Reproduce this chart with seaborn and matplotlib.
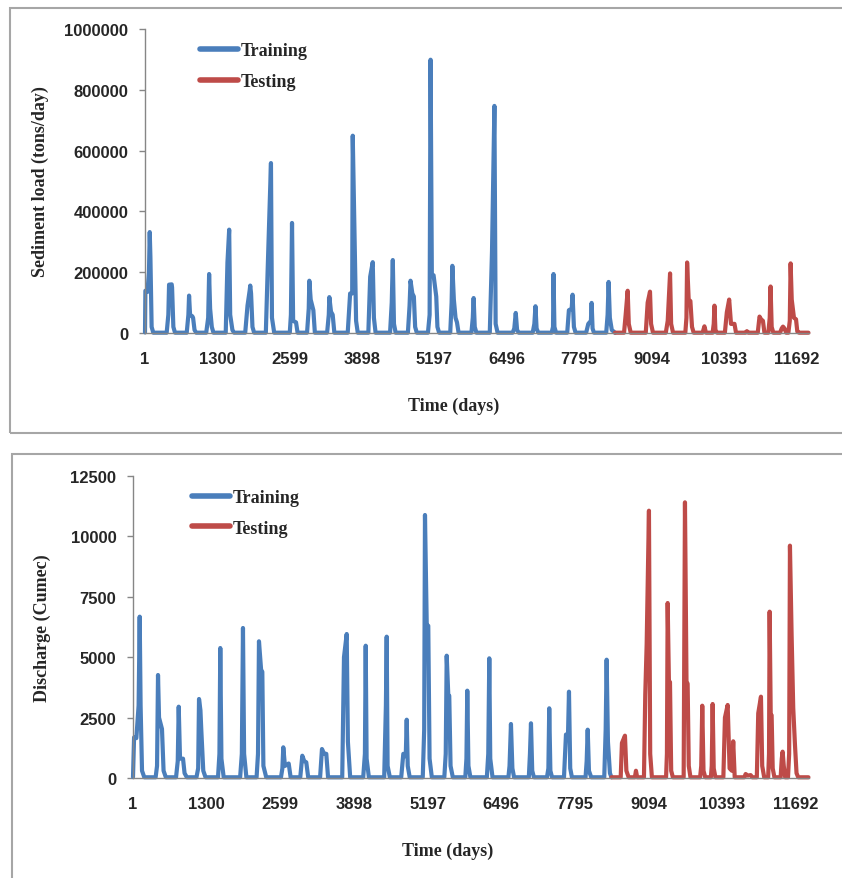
import matplotlib
matplotlib.use('Agg')
import matplotlib.pyplot as plt
from matplotlib.patches import Rectangle
import pandas as pd
import seaborn as sns

# sediment load (tons/day), vertices
sed_train_days = [1, 8, 45, 72, 86, 98, 120, 150,
                  390, 420, 433, 480, 487, 510, 540,
                  750, 780, 792, 810, 850, 864, 890, 920,
                  1100, 1135, 1152, 1170, 1200, 1230,
                  1450, 1481, 1512, 1530, 1570, 1600,
                  1800, 1841, 1880, 1890, 1905, 1930, 1960,
                  2170, 2201, 2262, 2280, 2320,
                  2600, 2620, 2640, 2660, 2712, 2740,
                  2910, 2940, 2951, 2975, 3023, 3050,
                  3270, 3300, 3310, 3340, 3370, 3400,
                  3640, 3683, 3720, 3730, 3760, 3790, 3820,
                  4010, 4043, 4089, 4110, 4140,
                  4400, 4430, 4449, 4470, 4500,
                  4720, 4750, 4767, 4800, 4827, 4850, 4880,
                  5080, 5110, 5127, 5150, 5181, 5229, 5250, 5280,
                  5480, 5505, 5518, 5545, 5575, 5601, 5630,
                  5860, 5885, 5900, 5920, 5950,
                  6190, 6230, 6273, 6295, 6330,
                  6600, 6630, 6656, 6680, 6710,
                  6960, 6990, 7010, 7030, 7060,
                  7300, 7325, 7334, 7350, 7380,
                  7580, 7610, 7660, 7676, 7700, 7730,
                  7920, 7958, 8005, 8018, 8035, 8060,
                  8280, 8305, 8323, 8345, 8380, 8437]
sed_train_vals = [2000, 139000, 135000, 200000, 332000, 250000, 20000, 1000,
                  1000, 60000, 159000, 160000, 150000, 20000, 1000,
                  1000, 60000, 123000, 60000, 55000, 50000, 10000, 1000,
                  1000, 50000, 194000, 80000, 20000, 1000,
                  1000, 232000, 340000, 60000, 10000, 1000,
                  1000, 90000, 140000, 156000, 130000, 20000, 1000,
                  1000, 196000, 559000, 50000, 1000,
                  1000, 60000, 362000, 40000, 35000, 1000,
                  1000, 80000, 172000, 110000, 75000, 1000,
                  1000, 60000, 118000, 70000, 60000, 1000,
                  1000, 130000, 130000, 649000, 335000, 40000, 1000,
                  1000, 185000, 233000, 50000, 1000,
                  1000, 100000, 240000, 30000, 1000,
                  1000, 90000, 172000, 130000, 120000, 20000, 1000,
                  1000, 60000, 899000, 190000, 190000, 120000, 20000, 1000,
                  1000, 100000, 221000, 110000, 50000, 35000, 1000,
                  1000, 50000, 115000, 20000, 1000,
                  1000, 270000, 747000, 30000, 1000,
                  1000, 15000, 66000, 10000, 1000,
                  1000, 30000, 88000, 15000, 1000,
                  1000, 20000, 194000, 20000, 1000,
                  1000, 75000, 80000, 126000, 20000, 1000,
                  1000, 30000, 40000, 99000, 15000, 1000,
                  1000, 60000, 168000, 50000, 10000, 1000]

sed_test_days = [8437, 8600, 8629, 8665, 8685, 8720,
                 8990, 9024, 9066, 9085, 9120,
                 9350, 9384, 9426, 9445, 9480,
                 9700, 9720, 9732, 9760, 9791, 9820, 9850,
                 10010, 10043, 10070,
                 10190, 10210, 10223, 10240, 10270,
                 10410, 10445, 10487, 10520, 10582, 10610,
                 10780, 10805, 10830,
                 11000, 11032, 11060, 11093, 11120,
                 11190, 11215, 11230, 11250, 11280,
                 11400, 11430, 11453, 11480, 11510,
                 11550, 11575, 11590, 11610, 11650, 11687, 11710, 11740, 11910]
sed_test_vals = [1000, 1000, 60000, 139000, 30000, 1000,
                 1000, 100000, 136000, 30000, 1000,
                 1000, 40000, 196000, 30000, 1000,
                 1000, 50000, 232000, 110000, 105000, 20000, 1000,
                 1000, 22000, 1000,
                 1000, 30000, 90000, 10000, 1000,
                 1000, 68000, 110000, 30000, 30000, 1000,
                 1000, 6000, 1000,
                 1000, 54000, 45000, 40000, 1000,
                 1000, 50000, 153000, 20000, 1000,
                 1000, 15000, 21000, 15000, 1000,
                 1000, 40000, 229000, 110000, 50000, 45000, 5000, 1000, 1000]

# discharge (cumec)
q_train_days = [1, 20, 60, 100, 119, 135, 160, 200,
                400, 425, 442, 460, 512, 540, 580,
                760, 790, 807, 830, 883, 910, 950,
                1120, 1150, 1165, 1190, 1205, 1240, 1280,
                1500, 1525, 1540, 1560, 1600,
                1890, 1920, 1940, 1960, 2000,
                2180, 2205, 2222, 2260, 2281, 2300, 2350,
                2610, 2635, 2651, 2680, 2746, 2780,
                2950, 2986, 3020, 3056, 3090,
                3300, 3333, 3370, 3409, 3440,
                3690, 3721, 3769, 3790, 3830,
                4060, 4090, 4104, 4120, 4160,
                4430, 4460, 4474, 4490, 4530,
                4730, 4767, 4810, 4827, 4845, 4880,
                5110, 5135, 5149, 5180, 5207, 5230, 5270,
                5490, 5515, 5532, 5560, 5577, 5600, 5640,
                5860, 5880, 5895, 5915, 5950,
                6240, 6265, 6283, 6300, 6340,
                6620, 6640, 6665, 6690, 6720,
                6980, 7000, 7018, 7040, 7070,
                7300, 7325, 7340, 7360, 7390,
                7600, 7635, 7670, 7688, 7710, 7740,
                7980, 8000, 8018, 8040, 8080,
                8310, 8335, 8352, 8375, 8410, 8437]
q_train_vals = [40, 1684, 1650, 3000, 6678, 3000, 300, 30,
                30, 500, 4263, 2500, 2028, 300, 30,
                30, 700, 2952, 800, 800, 200, 30,
                30, 400, 3270, 2800, 2000, 300, 30,
                30, 1000, 5380, 800, 30,
                30, 1000, 6209, 1000, 30,
                30, 1000, 5658, 4470, 4400, 500, 30,
                30, 400, 1270, 500, 600, 30,
                30, 923, 700, 650, 30,
                30, 1200, 1000, 1000, 30,
                30, 5000, 5960, 1500, 30,
                30, 1000, 5476, 800, 30,
                30, 3000, 5850, 500, 30,
                30, 1000, 900, 2413, 500, 30,
                30, 2000, 10886, 6347, 6300, 800, 30,
                30, 1000, 5063, 3435, 3400, 500, 30,
                30, 800, 3615, 500, 30,
                30, 1000, 4954, 800, 30,
                30, 500, 2235, 400, 30,
                30, 1000, 2264, 300, 30,
                30, 400, 2885, 300, 30,
                30, 1800, 1700, 3573, 400, 30,
                30, 700, 2000, 300, 30,
                30, 2000, 4897, 1500, 200, 30]

q_test_days = [8437, 8600, 8622, 8675, 8700, 8740,
               8850, 8869, 8890,
               9010, 9033, 9058, 9098, 9120, 9150,
               9400, 9415, 9428, 9450, 9469, 9490, 9520,
               9710, 9733, 9760, 9780, 9800, 9830,
               10000, 10020, 10038, 10060, 10090,
               10190, 10205, 10221, 10240, 10270,
               10410, 10438, 10486, 10520, 10560, 10584, 10610,
               10780, 10803, 10840, 10891, 10920,
               11000, 11025, 11073, 11095, 11130,
               11200, 11215, 11226, 11245, 11261, 11280, 11310,
               11420, 11440, 11455, 11475, 11500,
               11550, 11570, 11584, 11613, 11642, 11672, 11700, 11730, 11910]
q_test_vals = [30, 30, 1450, 1751, 300, 30,
               30, 300, 30,
               30, 3450, 5546, 11064, 1000, 30,
               30, 1000, 7243, 4000, 3973, 300, 30,
               30, 11410, 4000, 3900, 500, 30,
               30, 500, 2993, 300, 30,
               30, 500, 3063, 400, 30,
               30, 2500, 3022, 400, 300, 1519, 30,
               30, 165, 100, 120, 30,
               30, 2680, 3366, 500, 30,
               30, 1000, 6885, 2600, 2600, 400, 30,
               30, 800, 1090, 500, 30,
               30, 1000, 9617, 5960, 2900, 1400, 200, 30, 30]

x_ticks = [1, 1300, 2599, 3898, 5197, 6496, 7795, 9094, 10393, 11692]
sed_ticks = [0, 200000, 400000, 600000, 800000, 1000000]
q_ticks = [0, 2500, 5000, 7500, 10000, 12500]

blue = '#4a7ebb'
red = '#be4b48'

sns.set_style('white')
plt.rcParams['font.family'] = ['Liberation Serif', 'DejaVu Serif']

fig = plt.figure(figsize=(8.42, 8.79), dpi=100)

# panel borders
fig.add_artist(Rectangle((10 / 842, 1 - 434 / 879), 1.2, 425 / 879,
                         transform=fig.transFigure, fill=False,
                         edgecolor='#a6a6a6', linewidth=1.5))
fig.add_artist(Rectangle((12 / 842, -0.2), 1.2, 0.2 + 1 - 455 / 879,
                         transform=fig.transFigure, fill=False,
                         edgecolor='#a6a6a6', linewidth=1.5))

ax1 = fig.add_axes([145 / 842, 1 - 334 / 879, 664 / 842, 304 / 879])
ax2 = fig.add_axes([133 / 842, 1 - 779 / 879, 676 / 842, 302 / 879])


def make_frame(tr_d, tr_v, te_d, te_v):
    a = pd.DataFrame({'day': tr_d, 'value': tr_v, 'set': 'Training'})
    b = pd.DataFrame({'day': te_d, 'value': te_v, 'set': 'Testing'})
    return pd.concat([a, b], ignore_index=True)


def draw(ax, df, yticks, ylabel, ylab_x, leg_anchor):
    sns.lineplot(data=df, x='day', y='value', hue='set',
                 palette={'Training': blue, 'Testing': red},
                 estimator=None, linewidth=3.0, ax=ax)
    for ln in ax.get_lines():
        ln.set_clip_on(False)
    ax.set_xlim(1, 11920)
    ax.set_ylim(0, yticks[-1])
    ax.set_xticks(x_ticks)
    ax.set_xticklabels([str(t) for t in x_ticks])
    ax.set_yticks(yticks)
    ax.set_yticklabels([str(t) for t in yticks])
    for lab in ax.get_xticklabels() + ax.get_yticklabels():
        lab.set_fontfamily('Liberation Sans')
        lab.set_fontweight('bold')
        lab.set_fontsize(12)
    ax.tick_params(axis='x', length=0, pad=13)
    ax.tick_params(axis='y', length=4, width=1, color='#868686', pad=8, left=True)
    for s in ['top', 'right']:
        ax.spines[s].set_visible(False)
    for s in ['left', 'bottom']:
        ax.spines[s].set_color('#868686')
        ax.spines[s].set_linewidth(1)
    ax.set_xlabel('Time (days)', fontsize=13, fontweight='bold')
    ax.set_ylabel(ylabel, fontsize=13, fontweight='bold')
    ax.xaxis.set_label_coords(0.465, -0.21)
    ax.yaxis.set_label_coords(ylab_x, 0.5)
    handles, labels = ax.get_legend_handles_labels()
    leg = ax.legend(handles, labels, loc='upper left', bbox_to_anchor=leg_anchor,
                    frameon=False, handlelength=2.1, handletextpad=0.15,
                    labelspacing=0.75, borderaxespad=0,
                    prop={'family': 'Liberation Serif', 'weight': 'bold', 'size': 13})
    for ln in leg.get_lines():
        ln.set_linewidth(4)


draw(ax1, make_frame(sed_train_days, sed_train_vals, sed_test_days, sed_test_vals),
     sed_ticks, 'Sediment load (tons/day)', -0.145, (0.072, 0.98))
draw(ax2, make_frame(q_train_days, q_train_vals, q_test_days, q_test_vals),
     q_ticks, 'Discharge (Cumec)', -0.121, (0.077, 0.98))

fig.savefig('out.png', dpi=100)
